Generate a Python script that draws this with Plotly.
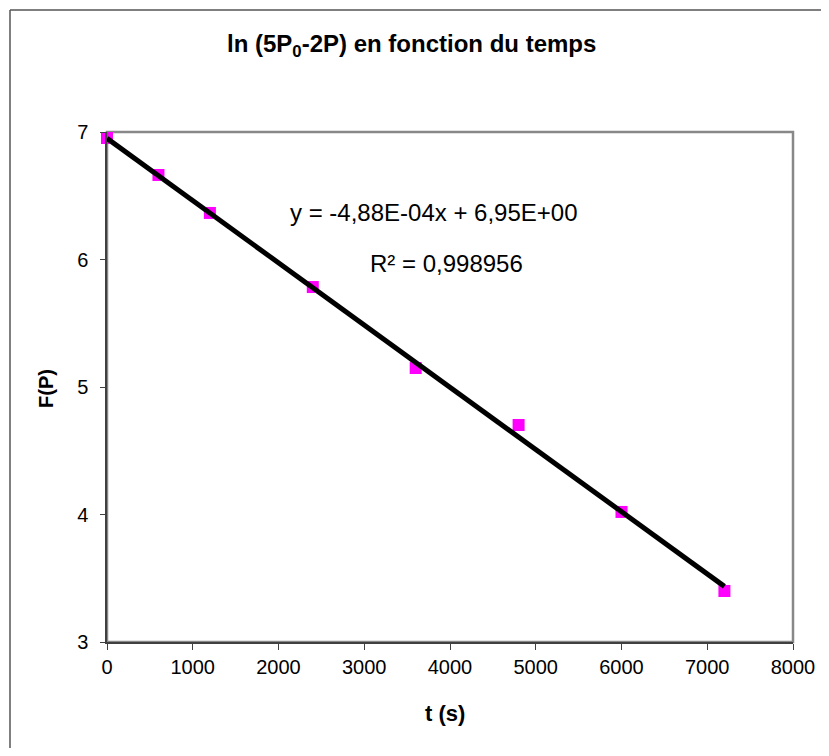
import plotly.graph_objects as go

# Data
t_values = [0, 600, 1200, 2400, 3600, 4800, 6000, 7200]
f_values = [6.953, 6.663, 6.365, 5.784, 5.149, 4.702, 4.020, 3.400]
slope = -4.88e-4
intercept = 6.95
r_squared = 0.998956
x_ticks = [0, 1000, 2000, 3000, 4000, 5000, 6000, 7000, 8000]
y_ticks = [3, 4, 5, 6, 7]

trend_x = [t_values[0], t_values[-1]]
trend_y = [intercept + slope * x for x in trend_x]

FONT = "Liberation Sans, Arial, sans-serif"

# page-pixel helpers (the page body has an 8px margin)
W, H = 813, 740
PL, PR, PT, PB = 107, 793, 132, 642
def px(x):
    return (x - PL) / (PR - PL)
def py(y):
    return (PB - y) / (PB - PT)

fig = go.Figure()
fig.add_trace(go.Scatter(
    x=t_values, y=f_values, mode="markers",
    marker=dict(symbol="square", size=12, color="#FF00FF", line=dict(width=0)),
    showlegend=False, cliponaxis=False,
))
fig.add_trace(go.Scatter(
    x=trend_x, y=trend_y, mode="lines",
    line=dict(color="black", width=5),
    showlegend=False, cliponaxis=False,
))

fig.update_layout(
    width=W, height=H,
    margin=dict(l=PL - 8, r=W - (PR - 8), t=PT - 8, b=H - (PB - 8), autoexpand=False),
    paper_bgcolor="white", plot_bgcolor="white",
    font=dict(family=FONT, size=20, color="black"),
    xaxis=dict(
        range=[0, 8000], tickvals=x_ticks, ticktext=[str(v) for v in x_ticks],
        showgrid=False, zeroline=False, showline=True, linecolor="#404040", linewidth=1.5,
        ticks="outside", ticklen=6, tickcolor="#404040", tickwidth=1,
        tickfont=dict(size=20), ticklabeloverflow="allow", automargin=False,
    ),
    yaxis=dict(
        range=[3, 7], tickvals=y_ticks, ticktext=[str(v) for v in y_ticks],
        showgrid=False, zeroline=False, showline=True, linecolor="#404040", linewidth=1.5,
        ticks="outside", ticklen=5, tickcolor="#404040", tickwidth=1,
        tickfont=dict(size=20), ticklabelstandoff=8, automargin=False,
    ),
    shapes=[
        dict(type="rect", xref="paper", yref="paper", x0=0, x1=1, y0=0, y1=1,
             line=dict(color="#888888", width=2.5), layer="below"),
        # outer chart frame: only left and top edges are visible in the page
        dict(type="line", xref="paper", yref="paper",
             x0=px(10), x1=px(10), y0=py(10), y1=py(760),
             line=dict(color="#555555", width=1.5)),
        dict(type="line", xref="paper", yref="paper",
             x0=px(10), x1=px(840), y0=py(10), y1=py(10),
             line=dict(color="#555555", width=1.5)),
    ],
    annotations=[
        dict(text="<b>ln (5P<sub>0</sub>-2P) en fonction du temps</b>",
             xref="paper", yref="paper", x=px(411), y=py(46),
             showarrow=False, font=dict(size=24), xanchor="center", yanchor="middle"),
        dict(text="y = -4,88E-04x + 6,95E+00",
             xref="paper", yref="paper", x=px(288), y=py(212),
             showarrow=False, font=dict(size=24), xanchor="left", yanchor="middle"),
        dict(text="R² = " + f"{r_squared:.6f}".replace(".", ","),
             xref="paper", yref="paper", x=px(446), y=py(264),
             showarrow=False, font=dict(size=24), xanchor="center", yanchor="middle"),
        dict(text="<b>t (s)</b>",
             xref="paper", yref="paper", x=px(445), y=py(713),
             showarrow=False, font=dict(size=22), xanchor="center", yanchor="middle"),
        dict(text="<b>F(P)</b>",
             xref="paper", yref="paper", x=px(46), y=py(389),
             showarrow=False, font=dict(size=20), xanchor="center", yanchor="middle",
             textangle=-90),
    ],
)

fig.write_html("out.html")
